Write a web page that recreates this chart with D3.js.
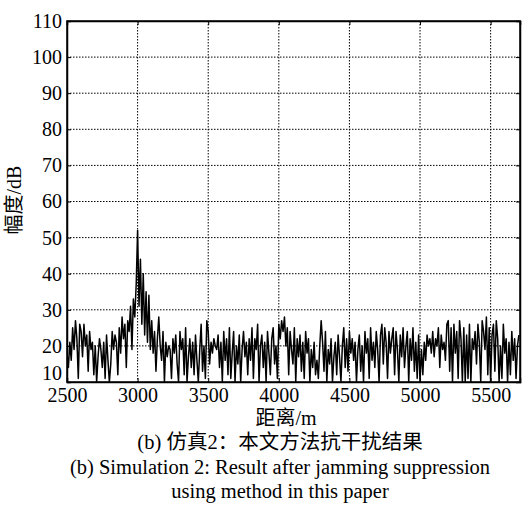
<!DOCTYPE html>
<html>
<head>
<meta charset="utf-8">
<script src="https://cdn.jsdelivr.net/npm/d3@7"></script>
<style>
  body { margin: 0; background: #fff; }
  svg text { font-family: "Liberation Serif", "Times New Roman", "Noto Sans CJK SC", serif; fill: #000; }
</style>
</head>
<body>
<svg id="chart" width="530" height="505"></svg>
<script>
// distance axis: 2500 m to 5700 m, one sample every 10 m
var startDist = 2500;
var stepDist = 10;
var amplitude = [
  18, 14, 21, 16, 25, 19, 27, 22, 11, 26,
  24, 17, 26, 20, 23, 13, 24, 19, 21, 12,
  20, 10, 17, 22, 19, 14, 21, 11, 23, 16,
  10, 15, 24, 19, 23, 21, 12, 25, 18, 28,
  22, 26, 14, 27, 24, 31, 19, 33, 28, 37,
  52, 31, 44, 26, 40, 23, 35, 21, 34, 19,
  27, 18, 24, 13, 22, 28, 20, 16, 24, 10,
  21, 17, 20, 19, 11, 22, 18, 23, 15, 10,
  24, 19, 22, 12, 25, 10, 17, 22, 14, 21,
  12, 23, 16, 10, 19, 26, 13, 20, 11, 27,
  24, 15, 21, 18, 22, 20, 19, 23, 14, 21,
  10, 24, 16, 22, 12, 25, 11, 18, 24, 10,
  20, 15, 23, 10, 19, 24, 17, 21, 12, 22,
  16, 25, 11, 22, 19, 26, 10, 20, 23, 14,
  21, 10, 24, 18, 12, 22, 25, 15, 20, 11,
  26, 22, 27, 24, 28, 20, 25, 12, 24, 19,
  15, 25, 10, 22, 17, 23, 13, 21, 11, 24,
  18, 22, 10, 19, 14, 21, 12, 16, 11, 20,
  27, 21, 13, 24, 10, 19, 15, 22, 10, 17,
  21, 12, 23, 17, 10, 20, 25, 14, 22, 13,
  24, 18, 22, 16, 21, 10, 19, 23, 13, 20,
  10, 24, 18, 22, 11, 25, 16, 21, 14, 24,
  19, 10, 23, 26, 15, 25, 21, 11, 24, 18,
  22, 25, 12, 24, 19, 10, 23, 17, 25, 14,
  20, 24, 10, 22, 16, 25, 13, 21, 11, 23,
  10, 19, 12, 21, 16, 23, 20, 22, 18, 24,
  17, 22, 20, 25, 14, 23, 19, 21, 16, 26,
  27, 13, 25, 10, 26, 18, 24, 11, 27, 22,
  10, 25, 10, 23, 11, 26, 10, 22, 19, 24,
  15, 26, 21, 10, 27, 24, 19, 28, 12, 25,
  10, 23, 26, 13, 27, 22, 10, 20, 11, 26,
  18, 22, 10, 21, 12, 24, 16, 22, 11, 20,
  23
];
var xTicks = [2500, 3000, 3500, 4000, 4500, 5000, 5500];
var yTicks = [10, 20, 30, 40, 50, 60, 70, 80, 90, 100, 110];

var xLabel = '距离/m';
var yLabel = '幅度/dB';
var captions = [
  '(b) 仿真2：本文方法抗干扰结果',
  '(b) Simulation 2: Result after jamming suppression',
  'using method in this paper'
];

var fontStack = '"Liberation Serif", "Times New Roman", "Noto Sans CJK SC", serif';

var svg = d3.select('#chart');
var margin = { top: 21, right: 10, bottom: 123, left: 67 };
var width = 530 - margin.left - margin.right;
var height = 505 - margin.top - margin.bottom;

var x = d3.scaleLinear().domain([2500, 5708]).range([0, width]);
var y = d3.scaleLinear().domain([10, 110]).range([height, 0]);

var g = svg.append('g')
  .attr('transform', 'translate(' + margin.left + ',' + margin.top + ')');

/*
 * Dotted grid
 */
g.append('g').selectAll('line')
  .data(xTicks.slice(1))
  .enter().append('line')
  .attr('x1', function(d) { return x(d); })
  .attr('x2', function(d) { return x(d); })
  .attr('y1', 0).attr('y2', height)
  .attr('stroke', '#000').attr('stroke-width', 1)
  .attr('stroke-dasharray', '1.5,1.5');

g.append('g').selectAll('line')
  .data(yTicks.slice(1, -1))
  .enter().append('line')
  .attr('y1', function(d) { return y(d); })
  .attr('y2', function(d) { return y(d); })
  .attr('x1', 0).attr('x2', width)
  .attr('stroke', '#000').attr('stroke-width', 1)
  .attr('stroke-dasharray', '1.5,1.5');

/*
 * Signal line
 */
g.append('clipPath').attr('id', 'plot-clip')
  .append('rect').attr('width', width).attr('height', height);

var line = d3.line()
  .x(function(d, i) { return x(startDist + i * stepDist); })
  .y(function(d) { return y(d); });

g.append('path')
  .datum(amplitude)
  .attr('clip-path', 'url(#plot-clip)')
  .attr('fill', 'none')
  .attr('stroke', '#000')
  .attr('stroke-width', 1.5)
  .attr('stroke-linejoin', 'round')
  .attr('d', line);

/*
 * Axes (inward ticks, box frame)
 */
g.append('g')
  .attr('transform', 'translate(0,' + height + ')')
  .call(d3.axisBottom(x).tickValues(xTicks).tickSize(-4).tickPadding(6).tickFormat(d3.format('d')));

g.append('g')
  .attr('class', 'axis--y')
  .call(d3.axisLeft(y).tickValues(yTicks).tickSize(-4).tickPadding(5).tickFormat(d3.format('d')));

g.append('g')
  .call(d3.axisTop(x).tickValues(xTicks).tickSize(-4).tickFormat(''));
g.append('g')
  .attr('transform', 'translate(' + width + ',0)')
  .call(d3.axisRight(y).tickValues(yTicks).tickSize(-4).tickFormat(''));

g.selectAll('.domain').attr('stroke', '#000').attr('stroke-width', 1.5);
g.selectAll('.tick line').attr('stroke', '#000');
g.selectAll('.tick text')
  .style('font-family', fontStack)
  .style('font-size', '20px');

// lowest y label sits a little above its tick, clear of the x labels
g.select('.axis--y').selectAll('.tick text')
  .filter(function(d) { return d === 10; })
  .attr('dy', '-0.12em');

g.append('rect')
  .attr('width', width).attr('height', height)
  .attr('fill', 'none').attr('stroke', '#000').attr('stroke-width', 1.5);

/*
 * Labels
 */
svg.append('text')
  .attr('transform', 'translate(21,200) rotate(-90)')
  .attr('text-anchor', 'middle')
  .style('font-family', fontStack)
  .style('font-size', '20px')
  .text(yLabel);

svg.append('text')
  .attr('x', 286).attr('y', 425)
  .attr('text-anchor', 'middle')
  .style('font-family', fontStack)
  .style('font-size', '20px')
  .text(xLabel);

svg.selectAll('text.caption')
  .data(captions)
  .enter().append('text')
  .attr('class', 'caption')
  .attr('x', 280)
  .attr('y', function(d, i) { return 449 + i * 24.5; })
  .attr('text-anchor', 'middle')
  .style('font-family', fontStack)
  .style('font-size', '20.5px')
  .text(function(d) { return d; });
</script>
</body>
</html>
